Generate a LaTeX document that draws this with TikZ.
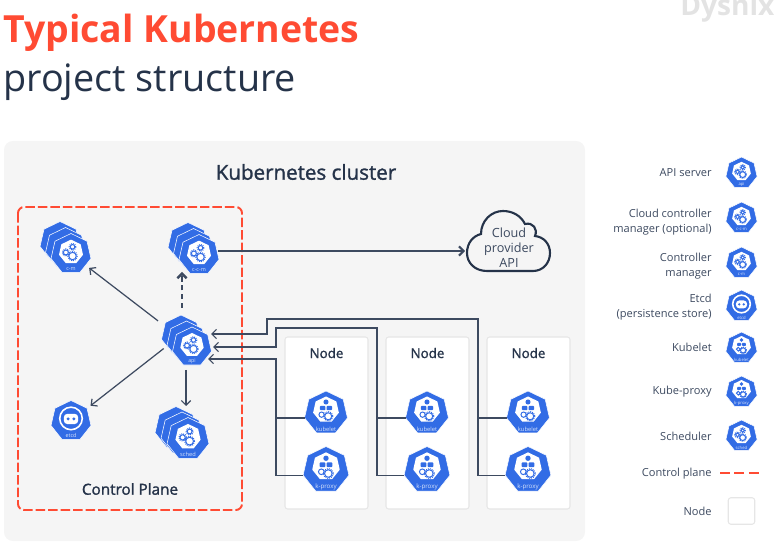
\documentclass[tikz,border=0pt]{standalone}
\usepackage{fontspec}
\usepackage{tikz}
\usetikzlibrary{shapes.geometric,arrows.meta,calc}
\setmainfont{Open Sans}
\newfontfamily\semibold[FakeBold=1.4]{Open Sans}

\definecolor{kubeblue}{HTML}{326CE5}
\definecolor{inkdark}{HTML}{253349}
\definecolor{inkline}{HTML}{3D4A60}
\definecolor{planered}{HTML}{FF4B33}
\definecolor{panelgray}{HTML}{F5F5F5}
\definecolor{boxedge}{HTML}{E6E6E6}

\tikzset{
  kube/.style={regular polygon,regular polygon sides=7,fill=kubeblue,draw=white,line width=0.3pt,inner sep=0pt,outer sep=0pt},
  kubetext/.style={text=white!80!kubeblue,font=\fontsize{3}{3}\selectfont,inner sep=0pt},
  title/.style={anchor=base west,inner sep=0pt},
  heading/.style={text=inkdark,font=\semibold\fontsize{7.6}{10}\selectfont,inner sep=0pt},
  legend/.style={anchor=east,align=right,text=inkline,font=\fontsize{6.3}{8.4}\selectfont,inner sep=0pt},
  nodebox/.style={draw=boxedge,fill=white,rounded corners=1.5pt,line width=0.6pt},
  wire/.style={draw=inkline,line width=0.7pt},
  flow/.style={wire,-{Straight Barb[length=2.6pt,width=5.2pt]}},
  gearpart/.style={draw=kubeblue,fill=white,line width=0.55pt},
  gearteeth/.style={draw=kubeblue,line width=0.7pt,dash pattern=on 0.5pt off 0.6pt},
  % white heptagon with three gears
  gears/.pic={
    \fill[white] (0,-14) -- (9.4,-9.5) -- (11.7,0.7) -- (5.2,8.8) -- (-5.2,8.8) -- (-11.7,0.7) -- (-9.4,-9.5) -- cycle;
    \draw[gearteeth] (1.5,2) circle (4.6);
    \draw[gearteeth] (-5,-1.5) circle (3.4);
    \draw[gearteeth] (1.5,-7) circle (3.2);
    \draw[gearpart] (1.5,2) circle (3.6);
    \draw[gearpart] (-5,-1.5) circle (2.4);
    \draw[gearpart] (1.5,-7) circle (2.2);
  },
  % white heptagon with boxes and one gear
  cubes/.pic={
    \fill[white] (0,-15) -- (9.4,-10.5) -- (11.7,-0.3) -- (5.2,7.8) -- (-5.2,7.8) -- (-11.7,-0.3) -- (-9.4,-10.5) -- cycle;
    \fill[kubeblue] (0,-10) circle (2.3);
    \fill[kubeblue,rounded corners=0.5pt] (-5.5,-6.5) rectangle (-0.5,-2.5);
    \fill[kubeblue,rounded corners=0.5pt] (0.5,-6.5) rectangle (5.5,-2.5);
    \draw[gearpart] (-4,1.5) circle (2.4);
    \draw[gearteeth] (2,3) circle (4.2);
    \draw[gearpart] (2,3) circle (3.2);
  },
  % white ring with the etcd face
  etcdface/.pic={
    \draw[white,line width=0.9pt] (0,-2.5) circle (11);
    \fill[white,rounded corners=2pt] (-7,-7) rectangle (7,3);
    \fill[kubeblue] (-2.8,-2) circle (1.6);
    \fill[kubeblue] (2.8,-2) circle (1.6);
  },
}

% icon: [glyph]{name}{x,y}{radius}{label}
\newcommand{\kubeicon}[5][gears]{
  \node[kube,minimum size=#4*0.04cm] (#2) at (#3) {};
  \pic[scale=#4/20] at (#2) {#1};
  \node[kubetext,scale=#4/20] (#2t) at ($(#2)+(0,#4*0.72)$) {#5};
}
% two blue copies behind an icon: {name}{x}{y}{radius}{dx}{dy}
\newcommand{\kubeback}[6]{
  \node[kube,minimum size=#4*0.04cm] (#1back) at (#2-2*#5,#3-2*#6) {};
  \node[kube,minimum size=#4*0.04cm] (#1mid) at (#2-#5,#3-#6) {};
}

\begin{document}
\begin{tikzpicture}[x=0.02cm,y=-0.02cm]
\useasboundingbox (0,0) rectangle (775,557);

% Title and watermark
\node[title,text=planered,font=\bfseries\fontsize{21.3}{25}\selectfont] (titletop) at (3,43) {Typical Kubernetes};
\node[title,text=inkdark,font=\fontsize{21.5}{25}\selectfont] (titlelow) at (3,92) {project structure};
\node[title,text=black!11,font=\bfseries\fontsize{16}{20}\selectfont] (brand) at (680,16) {Dysnix};

% Cluster panel
\fill[panelgray,rounded corners=5pt] (4,141) rectangle (585,541);
\node[heading,font=\semibold\fontsize{11.7}{14}\selectfont] (cluster) at (306,172) {Kubernetes cluster};

% Control plane frame
\draw[planered,line width=1.1pt,rounded corners=3.5pt,dash pattern=on 5.4pt off 1.7pt] (18,207) rectangle (242,510);
\node[heading,font=\semibold\fontsize{8.7}{10}\selectfont] (planetext) at (130,489) {Control Plane};

% Node boxes
\draw[nodebox] (285,337) rectangle (368,509);
\draw[nodebox] (386,337) rectangle (469,509);
\draw[nodebox] (487,337) rectangle (570,509);
\node[heading] (nodetexta) at (326.5,353) {Node};
\node[heading] (nodetextb) at (427.5,353) {Node};
\node[heading] (nodetextc) at (528.5,353) {Node};

% Cloud
\draw[draw=inkdark,line width=1.2pt] (487,271) .. controls (475,271) and (467,263) .. (467,253) .. controls (467,243) and (473,236) .. (481,234) .. controls (481,221) and (491,211) .. (503,211) .. controls (513,211) and (521,216) .. (525,224) .. controls (533,222) and (538,229) .. (535,236) .. controls (544,237) and (550,244) .. (550,253) .. controls (550,263) and (543,271) .. (533,271) -- cycle;
\node[align=center,text=inkline,font=\fontsize{7.2}{8.6}\selectfont,inner sep=0pt] (cloud) at (509,248) {Cloud\\provider\\API};

% Control plane icons
\kubeback{cm}{71}{254}{20.5}{5.5}{6}
\kubeicon{cm}{71,254}{20.5}{c-m}
\kubeback{ccm}{199}{255}{20.5}{5.5}{6}
\kubeicon{ccm}{199,255}{20.5}{c-c-m}
\kubeback{api}{192}{347}{20}{5.5}{6}
\kubeicon{api}{192,347}{20}{api}
\kubeback{sched}{188}{439}{21.5}{6}{5.5}
\kubeicon{sched}{188,439}{21.5}{sched}
\kubeicon[etcdface]{etcd}{71,421}{20.5}{etcd}

% Worker icons
\kubeicon[cubes]{leta}{326,413}{22}{kubelet}
\kubeicon[cubes]{proxa}{326,470}{23.5}{k-proxy}
\kubeicon[cubes]{letb}{427,413}{22}{kubelet}
\kubeicon[cubes]{proxb}{427,470}{23.5}{k-proxy}
\kubeicon[cubes]{letc}{528,413}{22}{kubelet}
\kubeicon[cubes]{proxc}{528,470}{23.5}{k-proxy}

% Free ends of the connectors
\coordinate (apiina) at (208,359);
\coordinate (apiinb) at (213,347);
\coordinate (apiinc) at (211,334);
\coordinate (schedtop) at (186,406);
\coordinate (apilow) at (186,370);
\coordinate (ccmlow) at (182,272);
\coordinate (apitop) at (182,308);
\coordinate (cloudin) at (465,251);
\coordinate (railb) at (377,328);
\coordinate (railc) at (478,319);
\coordinate (bendb) at (276,328);
\coordinate (bendc) at (267,319);
\coordinate (raila) at (276,359);

% API server connectors
\draw[flow,shorten <=0.46cm,shorten >=2.5pt] (api) -- (cm);
\draw[flow,shorten <=0.08cm,shorten >=2.5pt] (apiback) -- (etcd);
\draw[flow] (apilow) -- (schedtop);
\draw[flow,line width=1.4pt,dash pattern=on 3pt off 2pt] (apitop) -- (ccmlow);
\draw[flow,line width=1.2pt] (ccm.east |- cloudin) -- (cloudin);

% Worker connectors
\draw[flow] (proxa.corner 3) -- (raila |- proxa.corner 3) -- (raila) -- (apiina);
\draw[wire] (leta.corner 3) -- (raila |- leta.corner 3);
\draw[flow] (proxb.corner 3) -- (railb |- proxb.corner 3) -- (railb) -- (bendb) -- (bendb |- apiinb) -- (apiinb);
\draw[wire] (letb.corner 3) -- (railb |- letb.corner 3);
\draw[flow] (proxc.corner 3) -- (railc |- proxc.corner 3) -- (railc) -- (bendc) -- (bendc |- apiinc) -- (apiinc);
\draw[wire] (letc.corner 3) -- (railc |- letc.corner 3);

% Legend
\node[legend] (lapitext) at (712,173) {API server};
\kubeicon{lapi}{741.5,173}{16}{api}
\node[legend] (lccmtext) at (712,222.5) {Cloud controller\\manager (optional)};
\kubeicon{lccm}{741.5,218}{16}{c-c-m}
\node[legend] (lcmtext) at (712,266.5) {Controller\\manager};
\kubeicon{lcm}{741.5,263}{16}{c-m}
\node[legend] (letcdtext) at (712,307.5) {Etcd\\(persistence store)};
\kubeicon[etcdface]{letcd}{741.5,306}{16}{etcd}
\node[legend] (lkubetext) at (712,347.5) {Kubelet};
\kubeicon[cubes]{lkube}{741.5,348}{16}{kubelet}
\node[legend] (lproxtext) at (712,392) {Kube-proxy};
\kubeicon[cubes]{lprox}{741.5,392}{16}{k-proxy}
\node[legend] (lschedtext) at (712,436) {Scheduler};
\kubeicon{lsched}{741.5,436}{16}{sched}
\node[legend] (lplanetext) at (712,474) {Control plane};
\coordinate (ldasha) at (720,473);
\coordinate (ldashb) at (763,473);
\draw[planered,line width=1.1pt,dash pattern=on 5.6pt off 2.6pt] (ldasha) -- (ldashb);
\node[legend] (lnodetext) at (712,511) {Node};
\node[draw=boxedge,fill=white,rounded corners=1.5pt,line width=0.6pt,minimum size=0.53cm,inner sep=0pt] (lnode) at (741.5,511) {};

\end{tikzpicture}
\end{document}
